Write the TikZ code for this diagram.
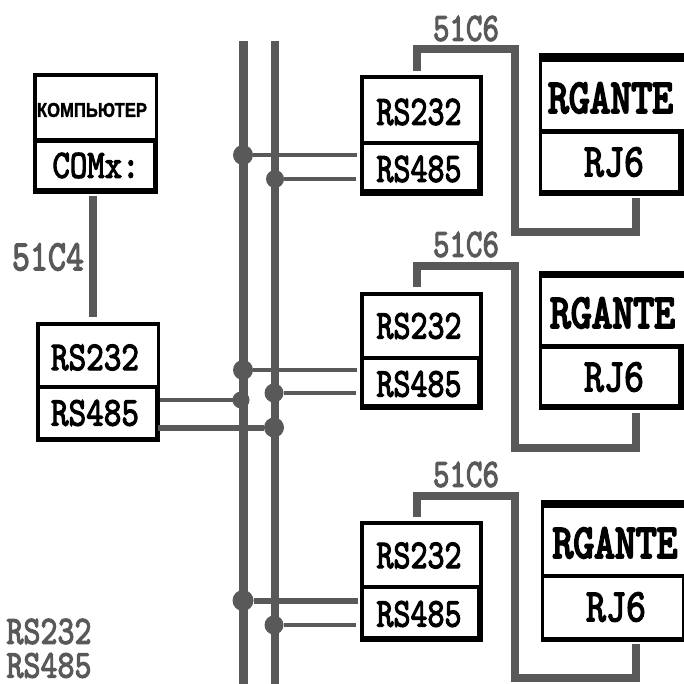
\documentclass[tikz,border=0pt]{standalone}
\usepackage{fontspec}
\usepackage{graphicx}
\newfontfamily\rufont[BoldFeatures={FakeBold=1.5}]{Liberation Sans}
\newfontfamily\mn[FakeBold=3]{Latin Modern Mono}
\newfontfamily\mh[FakeBold=4.5]{Latin Modern Mono}
\definecolor{wire}{HTML}{595959}
\tikzset{
  plate/.style={fill=black,inner sep=0pt,outer sep=0pt},
  cell/.style={fill=white,inner sep=0pt,outer sep=0pt},
  txt/.style={inner sep=0pt,outer sep=0pt,text=black},
  gtxt/.style={inner sep=0pt,outer sep=0pt,text=wire},
  bus/.style={draw=wire,line width=8.5pt},
  cable/.style={draw=wire,line width=8pt,line join=miter},
  thin wire/.style={draw=wire,line width=4.5pt},
  mid wire/.style={draw=wire,line width=6pt},
  dot/.style={circle,fill=wire,inner sep=0pt,outer sep=0pt,minimum size=#1*1pt},
}
% name, style, x1, y1, x2, y2
\newcommand\rbox[6]{\node[#2,minimum width={(#5-#3)*1pt},minimum height={(#6-#4)*1pt}] (#1) at ({(#3+#5)/2},{(#4+#6)/2}) {};}
\newcommand\lbl[2]{\resizebox{#1pt}{#2pt}}
\begin{document}
\begin{tikzpicture}[x=1pt,y=-1pt]
\useasboundingbox[fill=white] (0,0) rectangle (683,684);
% buses
\coordinate (b1t) at (243.5,41); \coordinate (b1b) at (243.5,684);
\coordinate (b2t) at (275,41);   \coordinate (b2b) at (275,684);
\draw[bus] (b1t) -- (b1b);
\draw[bus] (b2t) -- (b2b);
% computer
\rbox{pc}{plate}{33}{73}{158}{194}
\rbox{pcA}{cell}{37}{77}{155}{138}
\rbox{pcB}{cell}{37}{143}{153}{188}
\node[txt] (pcT) at (92,110) {\lbl{110}{14}{\rufont\bfseries КОМПЬЮТЕР}};
\node[txt] (pcC) at (96,165.5) {\lbl{87}{25}{\mn COMx:}};
% converter
\rbox{cv}{plate}{36}{322}{160}{442}
\rbox{cvA}{cell}{40}{326}{157}{385}
\rbox{cvB}{cell}{40}{389}{155}{437}
\node[txt] (cvT1) at (95,357.5) {\lbl{88}{25.5}{\mn RS232}};
\node[txt] (cvT2) at (95,413) {\lbl{88}{25.5}{\mn RS485}};
% cable 51C4
\coordinate (c4a) at (92.5,196); \coordinate (c4b) at (92.5,317);
\draw[cable] (c4a) -- (c4b);
\node[gtxt] (l4) at (48,257) {\lbl{72}{27}{\mn 51C4}};
% node groups
\rbox{n1}{plate}{360}{75}{483}{196}
\rbox{n1A}{cell}{364}{79}{479}{141}
\rbox{n1B}{cell}{364}{145}{477}{189}
\rbox{r1}{plate}{539}{53}{684}{196}
\rbox{r1A}{cell}{542}{62}{684}{129}
\rbox{r1B}{cell}{542}{134}{678}{190}
\rbox{n2}{plate}{360}{292}{483}{410}
\rbox{n2A}{cell}{364}{296}{479}{356}
\rbox{n2B}{cell}{364}{360}{477}{404}
\rbox{r2}{plate}{539}{271}{684}{410}
\rbox{r2A}{cell}{542}{278}{684}{344}
\rbox{r2B}{cell}{542}{349}{678}{404}
\rbox{n3}{plate}{360}{521}{483}{642}
\rbox{n3A}{cell}{364}{525}{479}{585}
\rbox{n3B}{cell}{364}{589}{477}{636}
\rbox{r3}{plate}{541}{500}{684}{642}
\rbox{r3A}{cell}{544}{508}{684}{574}
\rbox{r3B}{cell}{544}{578}{682}{637}
\node[txt] (t1a) at (419,112) {\lbl{85}{26}{\mn RS232}};
\node[txt] (t1b) at (419,169) {\lbl{85}{26}{\mn RS485}};
\node[txt] (t2a) at (419,326) {\lbl{85}{25.5}{\mn RS232}};
\node[txt] (t2b) at (419,384) {\lbl{85}{25.5}{\mn RS485}};
\node[txt] (t3a) at (419,555.5) {\lbl{85}{25.5}{\mn RS232}};
\node[txt] (t3b) at (419,614) {\lbl{85}{25.5}{\mn RS485}};
\node[txt] (g1) at (610.5,98) {\lbl{125}{30}{\mh RGANTE}};
\node[txt] (g2) at (612.5,313) {\lbl{125}{30}{\mh RGANTE}};
\node[txt] (g3) at (615,543) {\lbl{125}{30}{\mh RGANTE}};
\node[txt] (j1t) at (614,162) {\lbl{60}{29}{\mn RJ6}};
\node[txt] (j2t) at (614,377) {\lbl{60}{29}{\mn RJ6}};
\node[txt] (j3t) at (616,607) {\lbl{60}{29}{\mn RJ6}};
% cables 51C6
\coordinate (k1a) at (417,71);  \coordinate (k1b) at (636,198);
\coordinate (k2a) at (417,287); \coordinate (k2b) at (636,413);
\coordinate (k3a) at (417,517); \coordinate (k3b) at (636,644);
\draw[cable] (k1a) -- (417,49) -- (515,49) -- (515,232) -- (636,232) -- (k1b);
\draw[cable] (k2a) -- (417,266) -- (515,266) -- (515,448) -- (636,448) -- (k2b);
\draw[cable] (k3a) -- (417,496) -- (515,496) -- (515,678) -- (636,678) -- (k3b);
\node[gtxt] (l1) at (466,28.5) {\lbl{66}{25}{\mn 51C6}};
\node[gtxt] (l2) at (466,244.5) {\lbl{66}{25}{\mn 51C6}};
\node[gtxt] (l3) at (466,474.5) {\lbl{66}{25}{\mn 51C6}};
% junctions
\node[dot=20] (d1a) at (243,155) {};
\node[dot=18] (d1b) at (275,179) {};
\node[dot=20] (d2a) at (243,370) {};
\node[dot=19] (d2b) at (274,393) {};
\node[dot=17] (d2c) at (241,400) {};
\node[dot=20] (d2d) at (274,427.5) {};
\node[dot=21] (d3a) at (243,600.5) {};
\node[dot=19] (d3b) at (274,625) {};
\coordinate (e1a) at (357,155); \coordinate (e1b) at (356,179);
\coordinate (e2a) at (357,370); \coordinate (e2b) at (356,393);
\coordinate (e3a) at (358,600.5); \coordinate (e3b) at (356,625);
\coordinate (e2c) at (160,400); \coordinate (e2d) at (158,427.5);
\draw[thin wire] (d1a) -- (e1a);
\draw[thin wire] (d1b) -- (e1b);
\draw[thin wire] (d2a) -- (e2a);
\draw[thin wire] (d2b) -- (e2b);
\draw[thin wire] (e2c) -- (d2c);
\draw[mid wire] (e2d) -- (d2d);
\draw[mid wire] (d3a) -- (e3a);
\draw[thin wire] (d3b) -- (e3b);
% legend
\node[gtxt] (lg1) at (49,631.5) {\lbl{85}{25}{\mn RS232}};
\node[gtxt] (lg2) at (49,665.5) {\lbl{85}{24.5}{\mn RS485}};
\end{tikzpicture}
\end{document}
